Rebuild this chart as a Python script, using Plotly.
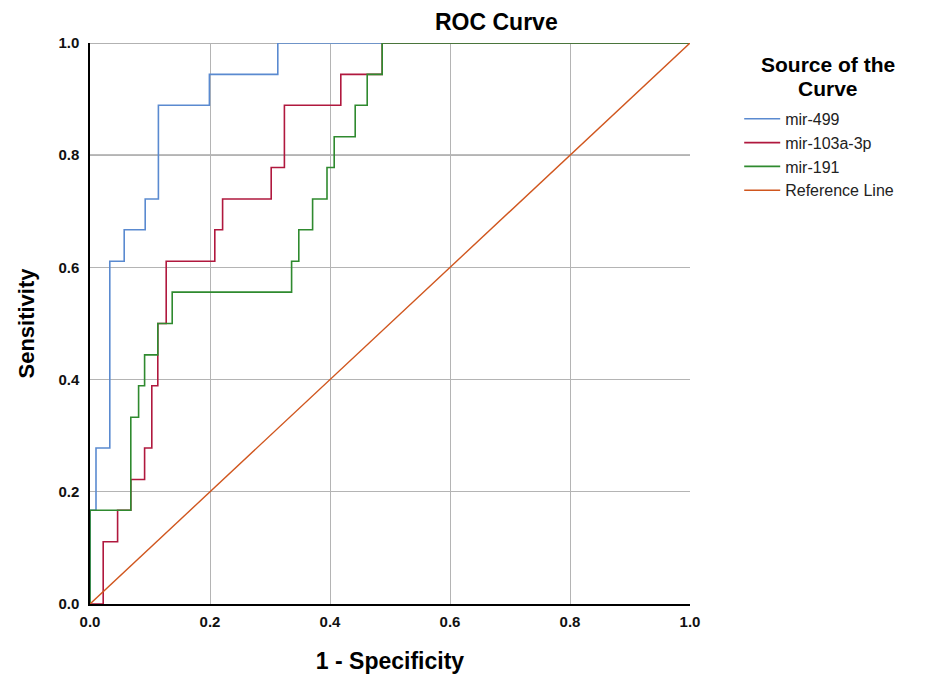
import plotly.graph_objects as go

# ROC step vertices (1 - specificity, sensitivity), drawn with hv steps
mir499_fpr = [0.0, 0.0, 0.010, 0.033, 0.057, 0.092, 0.114, 0.199, 0.313, 1.0]
mir499_tpr = [0.0, 0.167, 0.278, 0.611, 0.667, 0.722, 0.889, 0.944, 1.0, 1.0]

mir103_fpr = [0.0, 0.022, 0.046, 0.068, 0.091, 0.103, 0.113, 0.127, 0.208, 0.221, 0.302, 0.324, 0.418, 0.487, 1.0]
mir103_tpr = [0.0, 0.111, 0.167, 0.222, 0.278, 0.389, 0.500, 0.611, 0.667, 0.722, 0.778, 0.889, 0.944, 1.0, 1.0]

mir191_fpr = [0.0, 0.0, 0.068, 0.081, 0.091, 0.113, 0.137, 0.336, 0.348, 0.371, 0.395, 0.407, 0.442, 0.462, 0.487, 1.0]
mir191_tpr = [0.0, 0.167, 0.333, 0.389, 0.444, 0.500, 0.556, 0.611, 0.667, 0.722, 0.778, 0.833, 0.889, 0.944, 1.0, 1.0]

ref_x = [0.0, 1.0]
ref_y = [0.0, 1.0]

tick_vals = [0.0, 0.2, 0.4, 0.6, 0.8, 1.0]
tick_text = ["<b>0.0</b>", "<b>0.2</b>", "<b>0.4</b>", "<b>0.6</b>", "<b>0.8</b>", "<b>1.0</b>"]

FONT = "Liberation Sans, Arial, sans-serif"

fig = go.Figure()
fig.add_trace(go.Scatter(x=mir499_fpr, y=mir499_tpr, mode="lines", line_shape="hv",
                         name="mir-499", line=dict(color="#5a8ad0", width=1.6)))
fig.add_trace(go.Scatter(x=mir103_fpr, y=mir103_tpr, mode="lines", line_shape="hv",
                         name="mir-103a-3p", line=dict(color="#b0183e", width=1.6)))
fig.add_trace(go.Scatter(x=mir191_fpr, y=mir191_tpr, mode="lines", line_shape="hv",
                         name="mir-191", line=dict(color="#2f8a2f", width=1.6)))
fig.add_trace(go.Scatter(x=ref_x, y=ref_y, mode="lines",
                         name="Reference Line", line=dict(color="#d0561e", width=1.4)))

fig.update_layout(
    width=917, height=666,
    margin=dict(l=82, r=235, t=35, b=70),
    paper_bgcolor="white", plot_bgcolor="white",
    font=dict(family=FONT, color="black"),
    showlegend=True,
    legend=dict(x=1.082, y=0.895, xanchor="left", yanchor="top",
                font=dict(size=16, color="#222"), bgcolor="rgba(0,0,0,0)",
                tracegroupgap=0, itemwidth=36),
    shapes=[
        dict(type="line", xref="paper", yref="y", x0=0, x1=1, y0=0.8, y1=0.8,
             line=dict(color="#7a7a7a", width=1.5), layer="below"),
        dict(type="line", xref="paper", yref="y", x0=0, x1=1, y0=1.0, y1=1.0,
             line=dict(color="#999999", width=1.5), layer="below"),
    ],
    annotations=[
        dict(text="<b>ROC Curve</b>", x=0.677, y=1.0, xref="paper", yref="paper",
             xanchor="center", yanchor="middle", yshift=21, showarrow=False,
             font=dict(size=23, color="black", family=FONT)),
        dict(text="<b>Source of the</b>", x=1.23, y=1.0, xref="paper", yref="paper",
             xanchor="center", yanchor="middle", yshift=-21, showarrow=False,
             font=dict(size=21, color="black", family=FONT)),
        dict(text="<b>Curve</b>", x=1.23, y=1.0, xref="paper", yref="paper",
             xanchor="center", yanchor="middle", yshift=-45, showarrow=False,
             font=dict(size=21, color="black", family=FONT)),
    ],
)

fig.update_xaxes(range=[0, 1], tickvals=tick_vals, ticktext=tick_text,
                 showgrid=True, gridcolor="#b4b4b4", gridwidth=1,
                 zeroline=False, showline=True, linecolor="black", linewidth=1.5,
                 mirror=False, ticks="outside", ticklen=3, tickcolor="rgba(0,0,0,0)",
                 tickfont=dict(size=15, color="#111", family=FONT), automargin=False,
                 title=dict(text="<b>1 - Specificity</b>", font=dict(size=23, family=FONT), standoff=26))
fig.update_yaxes(range=[0, 1], tickvals=tick_vals, ticktext=tick_text,
                 showgrid=True, gridcolor="#b4b4b4", gridwidth=1,
                 zeroline=False, showline=True, linecolor="black", linewidth=1.5,
                 mirror=False, ticks="outside", ticklen=6, tickcolor="rgba(0,0,0,0)",
                 tickfont=dict(size=15, color="#111", family=FONT), automargin=False,
                 title=dict(text="<b>Sensitivity</b>", font=dict(size=22, family=FONT), standoff=18))

fig.write_html("out.html")
